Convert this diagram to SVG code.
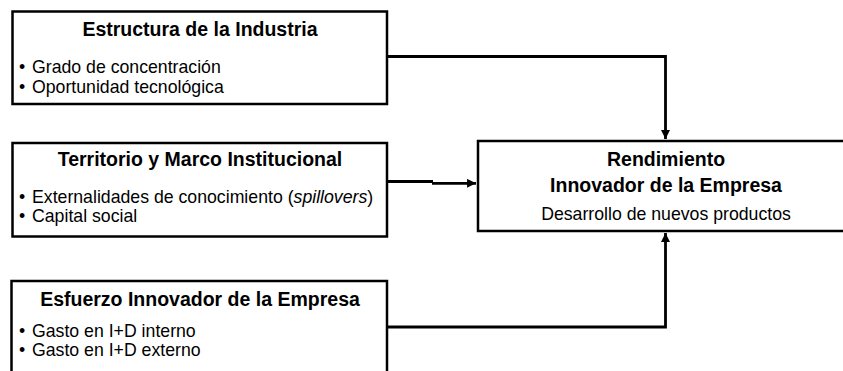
<svg xmlns="http://www.w3.org/2000/svg" width="843" height="371" viewBox="0 0 843 371">
<defs>
<marker id="ah" viewBox="0 0 10 10" refX="10" refY="5" markerWidth="3.2" markerHeight="3.2" markerUnits="strokeWidth" orient="auto">
<path d="M0,0 L10,5 L0,10 z" fill="#000"/>
</marker>
<style>
.box{fill:#fff;stroke:#000;stroke-width:2.5}
.t{font-family:"Liberation Sans",Arial,sans-serif;font-weight:bold;font-size:19.5px;fill:#000;text-anchor:middle}
.b{font-family:"Liberation Sans",Arial,sans-serif;font-size:17.7px;fill:#000}
.c{fill:none;stroke:#000;stroke-width:2.8}
</style>
</defs>
<rect width="843" height="371" fill="#fff"/>
<g id="connectors">
<path class="c" d="M387,56.5 H665.5 V139" marker-end="url(#ah)"/>
<path class="c" d="M387,181.5 H433"/>
<path class="c" d="M432,183.3 H476" marker-end="url(#ah)"/>
<path class="c" d="M387,327 H665.5 V233" marker-end="url(#ah)"/>
</g>
<g id="estructura">
<rect class="box" x="12.5" y="11.5" width="374.5" height="92.5"/>
<text class="t" x="200" y="36">Estructura de la Industria</text>
<text class="b" x="19" y="73">•<tspan x="32">Grado de concentración</tspan></text>
<text class="b" x="19" y="93">•<tspan x="32">Oportunidad tecnológica</tspan></text>
</g>
<g id="territorio">
<rect class="box" x="12.5" y="143" width="374.5" height="93.5"/>
<text class="t" x="200" y="166">Territorio y Marco Institucional</text>
<text class="b" x="19" y="203">•<tspan x="32">Externalidades de conocimiento (<tspan font-style="italic">spillovers</tspan>)</tspan></text>
<text class="b" x="19" y="222">•<tspan x="32">Capital social</tspan></text>
</g>
<g id="esfuerzo">
<rect class="box" x="11.5" y="281" width="375.5" height="100"/>
<text class="t" x="200" y="306">Esfuerzo Innovador de la Empresa</text>
<text class="b" x="19" y="337">•<tspan x="32">Gasto en I+D interno</tspan></text>
<text class="b" x="19" y="356">•<tspan x="32">Gasto en I+D externo</tspan></text>
</g>
<g id="rendimiento">
<rect class="box" x="478" y="141" width="380" height="90"/>
<text class="t" x="666" y="166">Rendimiento</text>
<text class="t" x="666" y="192">Innovador de la Empresa</text>
<text class="b" x="666" y="220" text-anchor="middle">Desarrollo de nuevos productos</text>
</g>
</svg>
